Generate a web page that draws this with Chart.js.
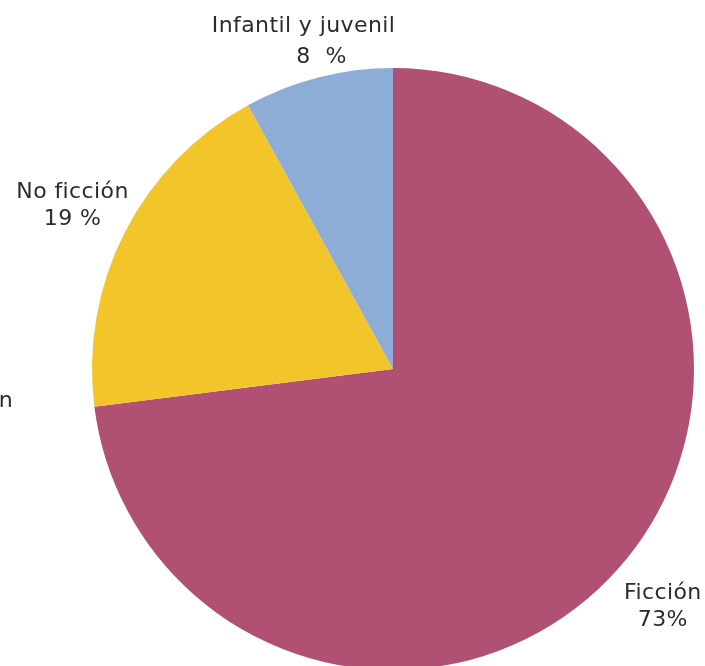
<!DOCTYPE html>
<html>
<head>
<meta charset="utf-8">
<script src="https://cdn.jsdelivr.net/npm/chart.js@4.4.0/dist/chart.umd.min.js"></script>
<style>
  html, body { margin: 0; padding: 0; background: #fff; overflow: hidden; }
  #wrap { width: 705px; height: 672px; }
</style>
</head>
<body>
<div id="wrap"><canvas id="pieChart" width="705" height="672"></canvas></div>
<script>
  // data
  const categories = ['Ficción', 'No ficción', 'Infantil y juvenil'];
  const shares = [73, 19, 8];
  const shareLabels = ['73%', '19 %', '8  %'];
  const sliceColors = ['#B05073', '#F2C52B', '#8EADD6'];

  const labelFont = '400 22px "DejaVu Sans", sans-serif';

  // labels outside the slices, placed along each slice's mid angle
  const outsideLabels = {
    id: 'outsideLabels',
    afterDraw(chart) {
      const ctx = chart.ctx;
      const arcs = chart.getDatasetMeta(0).data;
      ctx.save();
      ctx.font = labelFont;
      ctx.letterSpacing = '0.4px';
      ctx.fillStyle = '#2b2b2b';
      ctx.textAlign = 'center';
      ctx.textBaseline = 'middle';
      arcs.forEach(function (arc, i) {
        const mid = (arc.startAngle + arc.endAngle) / 2;
        const r = arc.outerRadius * 1.195;
        let x = arc.x + Math.cos(mid) * r;
        let y = arc.y + Math.sin(mid) * r;
        let gap = 27;
        if (y - gap / 2 < 26) { gap = 31; y = 26 + gap / 2; }
        ctx.fillText(categories[i], x, y - gap / 2);
        ctx.fillText(shareLabels[i], x + (i === 2 ? 18 : 0), y + gap / 2);
      });
      // leftover label clipped at the left edge
      ctx.textAlign = 'right';
      ctx.fillText(categories[0], 13, 401);
      ctx.restore();
    }
  };

  new Chart(document.getElementById('pieChart'), {
    type: 'pie',
    data: {
      labels: categories,
      datasets: [{
        data: shares,
        backgroundColor: sliceColors,
        borderWidth: 0
      }]
    },
    options: {
      responsive: false,
      animation: false,
      layout: { padding: { top: 68, bottom: 2, left: 92, right: 11 } },
      plugins: {
        legend: { display: false },
        tooltip: { enabled: false }
      }
    },
    plugins: [outsideLabels]
  });
</script>
</body>
</html>
